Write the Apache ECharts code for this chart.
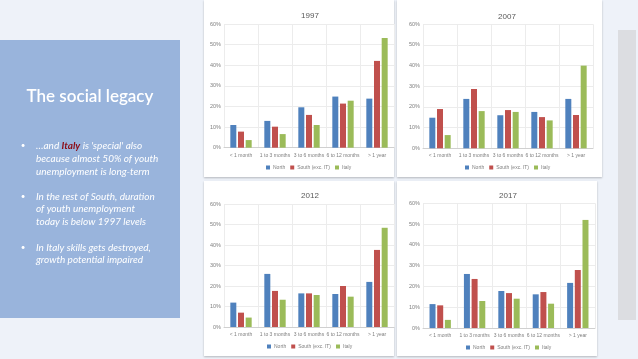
<!DOCTYPE html>
<html><head><meta charset="utf-8">
<script src="https://cdn.jsdelivr.net/npm/echarts@6/dist/echarts.min.js"></script>
<style>html,body{margin:0;padding:0;background:#eef2f9;}#c{width:638px;height:359px;}</style>
</head><body><div id="c"></div>
<script>
var categories = ['< 1 month','1 to 3 months','3 to 6 months','6 to 12 months','> 1 year'];
var seriesNames = ['North','South (exc. IT)','Italy'];
var years = ['1997','2007','2012','2017'];
var yTicks = [0,10,20,30,40,50,60];
var north1997 = [11.0, 13.0, 19.6, 24.8, 23.8];
var south1997 = [7.8, 10.2, 15.9, 21.4, 42.1];
var italy1997 = [3.7, 6.6, 11.0, 22.8, 53.2];
var north2007 = [14.8, 23.9, 16.0, 17.6, 23.9];
var south2007 = [19.0, 28.7, 18.5, 15.1, 16.1];
var italy2007 = [6.4, 18.0, 17.6, 13.5, 40.0];
var north2012 = [11.9, 25.9, 16.4, 16.1, 22.0];
var south2012 = [7.0, 17.6, 16.4, 20.0, 37.6];
var italy2012 = [4.6, 13.3, 15.6, 14.8, 48.4];
var north2017 = [11.5, 26.0, 17.8, 16.2, 21.7];
var south2017 = [10.9, 23.6, 16.8, 17.3, 27.9];
var italy2017 = [3.9, 13.0, 14.1, 11.7, 52.0];
var bulletLines = [
  ["…and ", "Italy", " is 'special' also"],
  ["because almost 50% of youth"],
  ["unemployment is long-term"],
  ["In the rest of South, duration"],
  ["of youth unemployment"],
  ["today is below 1997 levels"],
  ["In Italy skills gets destroyed,"],
  ["growth potential impaired"]
];

var data = [[north1997,south1997,italy1997],[north2007,south2007,italy2007],[north2012,south2012,italy2012],[north2017,south2017,italy2017]];
var colors = ['#4f81bd','#c0504d','#9bbb59'];
var grids = [
  {left:224, top:24, width:170, height:123.7},
  {left:423, top:24.3, width:170, height:124},
  {left:224, top:204, width:170, height:123},
  {left:423, top:203.3, width:172, height:124.7}
];
var boxes = [
  {x:204,y:0,w:190,h:177},
  {x:397,y:0,w:205,h:177},
  {x:204,y:181,w:190,h:175},
  {x:397,y:181,w:200,h:175}
];
var titleCenters = [[305,11],[502,11.5],[305,190.5],[503,190.5]];
var legendTops = [165,165,344,345];
var legendLefts = [266,465,267,466];
var txt = '#7f7f7f';

var option = {
  animation:false,
  title:[], legend:[], grid:[], xAxis:[], yAxis:[], series:[],
  graphic:[]
};
option.graphic.push({type:'rect', shape:{x:0,y:40,width:180,height:278}, style:{fill:'#99b4dc'}, z:-10});
option.graphic.push({type:'rect', shape:{x:618,y:30,width:18,height:290}, style:{fill:'#dcdde1'}, z:-10});
boxes.forEach(function(b){
  option.graphic.push({type:'rect', shape:{x:b.x,y:b.y,width:b.w,height:b.h}, style:{fill:'#ffffff', shadowBlur:2, shadowColor:'rgba(0,0,0,0.25)', shadowOffsetY:1}, z:-5});
});
option.graphic.push({type:'text', x:90, y:97, style:{text:'The social legacy', fill:'#ffffff', font:'600 17px Lato', textAlign:'center', textVerticalAlign:'middle'}});
var lineYs = [145.7,158.3,171.3,196.3,208.7,221.7,247.3,260];
var bulletYs = [145.7,196.3,247.3];
bulletYs.forEach(function(y){
  option.graphic.push({type:'text', x:23, y:y, style:{text:'•', fill:'#ffffff', font:'8px Lato', textAlign:'center', textVerticalAlign:'middle'}});
});
bulletLines.forEach(function(parts, i){
  if (parts.length === 1) {
    option.graphic.push({type:'text', x:36, y:lineYs[i], style:{text:parts[0], fill:'#ffffff', font:'italic 10px Lato', textVerticalAlign:'middle'}});
  } else {
    option.graphic.push({type:'text', x:36, y:lineYs[i], style:{
      text:'{a|'+parts[0]+'}{b|'+parts[1]+'}{a|'+parts[2]+'}', textVerticalAlign:'middle',
      rich:{a:{fill:'#ffffff', font:'italic 10px Lato'}, b:{fill:'#8c0a14', font:'italic bold 10px Lato'}}
    }});
  }
});

years.forEach(function(yr, k){
  option.title.push({text:yr, left:titleCenters[k][0], top:titleCenters[k][1], textAlign:'center', textVerticalAlign:'middle',
    textStyle:{fontSize:8, fontWeight:'normal', color:'#595959', fontFamily:'Liberation Sans'}});
  option.grid.push(grids[k]);
  option.xAxis.push({type:'category', gridIndex:k, data:categories,
    axisLine:{lineStyle:{color:'#d0d0d0'}}, axisTick:{show:false},
    splitLine:{show:true, lineStyle:{color:'#ececec', width:1}},
    axisLabel:{interval:0, fontSize:5, color:txt, margin:5, fontFamily:'Liberation Sans'}});
  option.yAxis.push({type:'value', gridIndex:k, min:0, max:60, interval:10,
    axisLine:{show:false}, axisTick:{show:false},
    splitLine:{lineStyle:{color:'#ececec', width:1}},
    axisLabel:{fontSize:5.5, color:txt, margin:3, formatter:'{value}%', fontFamily:'Liberation Sans'}});
  option.legend.push({data:seriesNames, left:legendLefts[k], top:legendTops[k], itemWidth:4, itemHeight:4, itemGap:5,
    icon:'rect', textStyle:{fontSize:5, color:txt, fontFamily:'Liberation Sans', padding:[0,0,0,-2]}, padding:0,
    selectedMode:false, orient:'horizontal'});
  for (var s=0; s<3; s++){
    option.series.push({type:'bar', name:seriesNames[s], xAxisIndex:k, yAxisIndex:k, data:data[k][s],
      barWidth:6, barGap:'28%', itemStyle:{color:colors[s]}});
  }
});
var chart = echarts.init(document.getElementById('c'), null, {renderer:'canvas', width:638, height:359});
chart.setOption(option);
</script></body></html>
